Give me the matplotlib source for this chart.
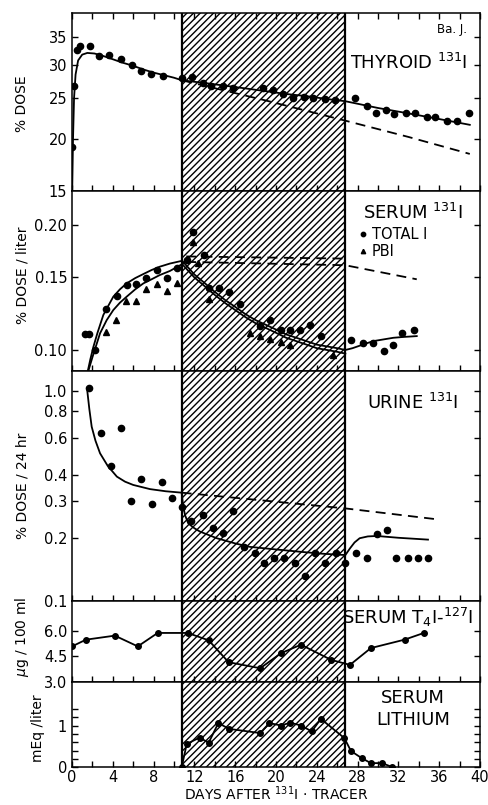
import numpy as np
import matplotlib
matplotlib.use("Agg")
import matplotlib.pyplot as plt
from matplotlib.ticker import NullLocator, FixedLocator, MultipleLocator

plt.rcParams['font.family'] = ['DejaVu Sans']
plt.rcParams['hatch.linewidth'] = 1.0

# periodo de litio (zona rayada)
li_ini, li_fin = 10.8, 26.8

# --- tiroides 131I (% dosis) ---
tir_dias = [0, 0.2, 0.5, 0.8, 1.8, 2.6, 3.6, 4.8, 5.85, 6.8, 7.7, 8.95, 10.75, 11.8,
            12.8, 13.6, 14.8, 15.8, 18.7, 19.7, 20.7, 21.7, 22.7, 23.65, 24.8, 25.8,
            27.75, 28.95, 29.8, 30.75, 31.6, 32.7, 33.6, 34.8, 35.6, 36.8, 37.7, 38.9]
tir_vals = [19.1, 26.7, 32.7, 33.3, 33.4, 31.5, 31.8, 31.0, 30.1, 29.0, 28.6, 28.2, 27.9, 28.1,
            27.2, 26.8, 26.7, 26.5, 26.4, 26.1, 25.6, 25.1, 25.2, 25.0, 24.9, 24.8,
            25.0, 24.0, 23.1, 23.4, 22.9, 23.1, 23.0, 22.5, 22.6, 22.1, 22.1, 23.0]
tir_curva_x = [0.02, 0.1, 0.2, 0.35, 0.6, 1.0, 1.5, 2.2, 3, 4, 5, 6, 7, 8, 9, 10, 10.8,
               13, 15, 17, 19, 21, 23, 25, 26.8, 30, 33, 36, 39]
tir_curva_y = [15, 20, 25, 28.5, 30.8, 31.8, 32.1, 32.0, 31.6, 31.0, 30.4, 29.9, 29.3, 28.8,
               28.4, 28.0, 27.6, 27.2, 26.8, 26.4, 26.0, 25.6, 25.3, 24.9, 24.6, 23.7, 23.0,
               22.3, 21.6]
tir_guion_x = [10.8, 19, 26.8, 33, 39]
tir_guion_y = [27.6, 24.7, 22.1, 20.2, 18.4]

# --- suero 131I (% dosis / litro) ---
tot_dias = [1.3, 1.7, 2.25, 3.3, 4.4, 5.35, 6.3, 7.3, 8.35, 9.35, 10.3, 11.3, 11.9, 12.9,
            13.4, 14.4, 15.4, 16.5, 18.4, 19.4, 20.5, 21.4, 22.4, 23.3, 24.4,
            27.4, 28.55, 29.5, 30.6, 31.5, 32.4, 33.5]
tot_vals = [0.109, 0.109, 0.100, 0.1255, 0.135, 0.143, 0.144, 0.149, 0.156, 0.149, 0.158,
            0.165, 0.192, 0.169, 0.141, 0.141, 0.138, 0.129, 0.114, 0.118, 0.112, 0.112,
            0.112, 0.115, 0.108, 0.1057, 0.104, 0.104, 0.0996, 0.1028, 0.110, 0.1117]
pbi_dias = [3.3, 4.3, 5.3, 6.3, 7.3, 8.3, 9.35, 10.25, 11.9, 12.4, 13.4, 17.45, 18.4,
            19.4, 20.5, 21.4, 25.55]
pbi_vals = [0.1107, 0.118, 0.131, 0.131, 0.140, 0.144, 0.139, 0.145, 0.182, 0.162, 0.133,
            0.110, 0.108, 0.106, 0.1047, 0.103, 0.097]
tot_curva_x = [1.55, 1.8, 2.1, 2.5, 3.07, 3.5, 4.05, 4.7, 5.36, 6.2, 7.0, 7.8, 8.6, 9.6, 10.8,
               12, 13, 14, 15, 16, 17, 18, 19, 20, 21, 22, 23, 24, 25, 26, 26.8,
               27.5, 28.5, 29.5, 30.5, 31.5, 32.5, 33.8]
tot_curva_y = [0.089, 0.095, 0.1018, 0.110, 0.1214, 0.127, 0.1344, 0.140, 0.1447, 0.149,
               0.1524, 0.1558, 0.1587, 0.1615, 0.164, 0.152, 0.145, 0.138, 0.132, 0.127,
               0.122, 0.118, 0.115, 0.112, 0.109, 0.107, 0.105, 0.103, 0.102, 0.101, 0.100,
               0.101, 0.103, 0.105, 0.106, 0.107, 0.1075, 0.108]
pbi_curva_x = [1.6, 2.0, 2.75, 3.4, 4.05, 4.7, 5.36, 6.2, 7.0, 7.8, 8.6, 9.6, 10.8,
               12, 13, 14, 15, 16, 17, 18, 19, 20, 21, 22, 23, 24, 25, 26, 26.8]
pbi_curva_y = [0.089, 0.096, 0.1097, 0.118, 0.1248, 0.130, 0.1344, 0.140, 0.1447, 0.148,
               0.1515, 0.155, 0.161, 0.1495, 0.1425, 0.1357, 0.1298, 0.1248, 0.120, 0.116,
               0.113, 0.110, 0.107, 0.105, 0.103, 0.101, 0.100, 0.099, 0.098]
tot_guion_x = [11.2, 26.8]
tot_guion_y = [0.168, 0.166]
pbi_guion_x = [11.2, 26.8, 33.8]
pbi_guion_y = [0.163, 0.160, 0.148]

# --- orina 131I (% dosis / 24 h) ---
ori_dias = [1.7, 2.8, 3.8, 4.8, 5.8, 6.8, 7.8, 8.85, 9.8, 10.75, 11.7, 12.8, 13.85, 14.8,
            15.8, 16.9, 17.9, 18.85, 19.8, 20.8, 21.9, 22.85, 23.8, 24.8, 25.85, 26.8,
            27.8, 28.9, 29.9, 30.85, 31.8, 32.9, 33.95, 34.9]
ori_vals = [1.03, 0.633, 0.439, 0.669, 0.300, 0.380, 0.289, 0.370, 0.310, 0.281, 0.240,
            0.258, 0.222, 0.211, 0.269, 0.180, 0.170, 0.152, 0.160, 0.160, 0.151, 0.131,
            0.170, 0.152, 0.170, 0.151, 0.170, 0.160, 0.208, 0.219, 0.160, 0.160, 0.160,
            0.160]
ori_curva_x = [1.5, 1.7, 1.93, 2.3, 2.75, 3.5, 4.4, 5.2, 6, 7.65, 9.2, 10.75, 10.9, 11.1,
               11.4, 12, 12.55, 14.2, 16, 17.45, 20, 22.35, 24.5, 26.8, 27.25, 27.7, 28.2,
               29.0, 29.9, 32, 34.9]
ori_curva_y = [1.0, 0.82, 0.676, 0.58, 0.505, 0.44, 0.391, 0.37, 0.357, 0.341, 0.333,
               0.328, 0.281, 0.255, 0.234, 0.222, 0.214, 0.199, 0.188, 0.181, 0.176,
               0.1716, 0.168, 0.1655, 0.178, 0.190, 0.199, 0.203, 0.204, 0.200, 0.196]
ori_guion_x = [10.75, 26.8, 35.75]
ori_guion_y = [0.328, 0.276, 0.245]

# --- suero T4I-127I (ug / 100 ml) ---
t4_dias = [0, 1.37, 4.2, 6.45, 8.4, 11.35, 13.4, 15.35, 18.45, 20.5, 22.45, 25.4, 27.25,
           29.3, 32.6, 34.5]
t4_vals = [5.1, 5.5, 5.74, 5.1, 5.9, 5.9, 5.46, 4.16, 3.8, 4.7, 5.2, 4.3, 4.0, 5.0, 5.5, 5.9]

# --- litio en suero (mEq / litro) ---
lit_dias = [10.75, 11.25, 12.5, 13.4, 14.35, 15.4, 18.45, 19.35, 20.5, 21.4, 22.45, 23.5,
            24.4, 26.7, 27.35, 28.4, 29.3, 30.4, 31.35]
lit_vals = [0, 0.56, 0.71, 0.59, 1.06, 0.92, 0.82, 1.06, 1.0, 1.07, 1.0, 0.86, 1.16, 0.70,
            0.39, 0.22, 0.10, 0.10, 0.01]

# geometria en pixeles (alto total 805)
W, H = 489, 805
izq, der = 72, 480
bordes = [13, 191, 371, 601, 681.7, 767.3]

fig = plt.figure(figsize=(W / 100, H / 100), dpi=100)
ejes = []
for i in range(5):
    arriba, abajo = bordes[i], bordes[i + 1]
    ax = fig.add_axes([izq / W, 1 - abajo / H, (der - izq) / W, (abajo - arriba) / H])
    ejes.append(ax)

lw = 1.3
guion = (0, (5.5, 3.5))
for i, ax in enumerate(ejes):
    ax.set_xlim(0, 40)
    ax.axvspan(li_ini, li_fin, facecolor='white', edgecolor='black', hatch='/////',
               linewidth=0, zorder=0)
    ax.axvline(li_ini, color='black', lw=1.6, zorder=1)
    ax.axvline(li_fin, color='black', lw=1.6, zorder=1)
    ax.xaxis.set_major_locator(MultipleLocator(4))
    ax.xaxis.set_minor_locator(MultipleLocator(2))
    ax.tick_params(which='both', direction='in', length=4.5, width=1.0,
                   top=(i == 0), right=True, labelsize=10.5)
    ax.tick_params(axis='x', pad=2)
    for s in ax.spines.values():
        s.set_linewidth(1.1)
    if i < 4:
        ax.tick_params(labelbottom=False)

# panel 1: tiroides
ax = ejes[0]
ax.set_yscale('log')
ax.set_ylim(15, 40)
ax.plot(tir_curva_x, tir_curva_y, color='black', lw=lw)
ax.plot(tir_guion_x, tir_guion_y, color='black', lw=lw, linestyle=guion)
ax.plot(tir_dias, tir_vals, 'o', color='black', ms=4.5)
ax.set_yticks([15, 20, 25, 30, 35])
ax.set_yticklabels(['15', '20', '25', '30', '35'])
ax.yaxis.set_minor_locator(NullLocator())
ax.set_ylabel('% DOSE', fontsize=10)
ax.yaxis.set_label_coords(-0.105, 0.49)
ax.text(0.968, 0.905, 'Ba. J.', transform=ax.transAxes, ha='right', va='center', fontsize=8.5)
ax.text(0.968, 0.72, r'THYROID $^{131}$I', transform=ax.transAxes, ha='right', va='center',
        fontsize=13)

# panel 2: suero 131I
ax = ejes[1]
ax.set_yscale('log')
ax.set_ylim(0.089, 0.2415)
ax.plot(tot_curva_x, tot_curva_y, color='black', lw=lw)
ax.plot(pbi_curva_x, pbi_curva_y, color='black', lw=lw)
ax.plot(tot_guion_x, tot_guion_y, color='black', lw=lw, linestyle=guion)
ax.plot(pbi_guion_x, pbi_guion_y, color='black', lw=lw, linestyle=guion)
h_tot, = ax.plot(tot_dias, tot_vals, 'o', color='black', ms=4.5)
h_pbi, = ax.plot(pbi_dias, pbi_vals, '^', color='black', ms=4.5)
ax.set_yticks([0.10, 0.15, 0.20])
ax.set_yticklabels(['0.10', '0.15', '0.20'])
ax.yaxis.set_minor_locator(NullLocator())
ax.set_ylabel('% DOSE / liter', fontsize=10)
ax.yaxis.set_label_coords(-0.105, 0.53)
ax.text(0.958, 0.88, r'SERUM $^{131}$I', transform=ax.transAxes, ha='right', va='center',
        fontsize=13)
ax.legend([h_tot, h_pbi], ['TOTAL I', 'PBI'], loc='upper left', bbox_to_anchor=(0.705, 0.80),
          frameon=False, handlelength=0.5, handletextpad=0.35, labelspacing=0.15,
          borderpad=0, borderaxespad=0, markerscale=0.7, fontsize=10.5)

# panel 3: orina
ax = ejes[2]
ax.set_yscale('log')
ax.set_ylim(0.1, 1.245)
ax.plot(ori_curva_x, ori_curva_y, color='black', lw=lw)
ax.plot(ori_guion_x, ori_guion_y, color='black', lw=lw, linestyle=guion)
ax.plot(ori_dias, ori_vals, 'o', color='black', ms=4.5)
ax.set_yticks([0.1, 0.2, 0.3, 0.4, 0.6, 0.8, 1.0])
ax.set_yticklabels(['0.1', '0.2', '0.3', '0.4', '0.6', '0.8', '1.0'])
ax.yaxis.set_minor_locator(NullLocator())
ax.set_ylabel('% DOSE / 24 hr', fontsize=10)
ax.yaxis.set_label_coords(-0.105, 0.50)
ax.text(0.946, 0.863, r'URINE $^{131}$I', transform=ax.transAxes, ha='right', va='center',
        fontsize=13)

# panel 4: T4I
ax = ejes[3]
ax.set_ylim(3.0, 7.8)
ax.plot(t4_dias, t4_vals, 'o-', color='black', ms=4, lw=lw)
ax.set_yticks([3.0, 4.5, 6.0])
ax.set_yticklabels(['3.0', '4.5', '6.0'])
ax.set_ylabel(r'$\mu$g / 100 ml', fontsize=10)
ax.yaxis.set_label_coords(-0.1, 0.55)
ax.text(0.983, 0.80, r'SERUM T$_4$I-$^{127}$I', transform=ax.transAxes, ha='right',
        va='center', fontsize=13)

# panel 5: litio
ax = ejes[4]
ax.set_ylim(0, 2.05)
ax.plot(lit_dias, lit_vals, 'o-', color='black', ms=4, lw=lw)
ax.set_yticks([0, 1])
ax.set_yticklabels(['0', '1'])
ax.yaxis.set_minor_locator(FixedLocator([0.2, 0.4, 0.6, 0.8, 1.2, 1.4]))
ax.set_ylabel('mEq /liter', fontsize=10)
ax.yaxis.set_label_coords(-0.066, 0.46)
ax.text(0.836, 0.68, 'SERUM\nLITHIUM', transform=ax.transAxes, ha='center', va='center',
        fontsize=13, linespacing=1.25)
ax.set_xticks(np.arange(0, 41, 4))
ax.set_xticklabels([str(d) for d in range(0, 41, 4)])
ax.set_xlabel(r'DAYS AFTER $^{131}$I $\cdot$ TRACER', fontsize=10)
ax.xaxis.set_label_coords(0.5, -0.195)

fig.savefig('out.png', dpi=100)
